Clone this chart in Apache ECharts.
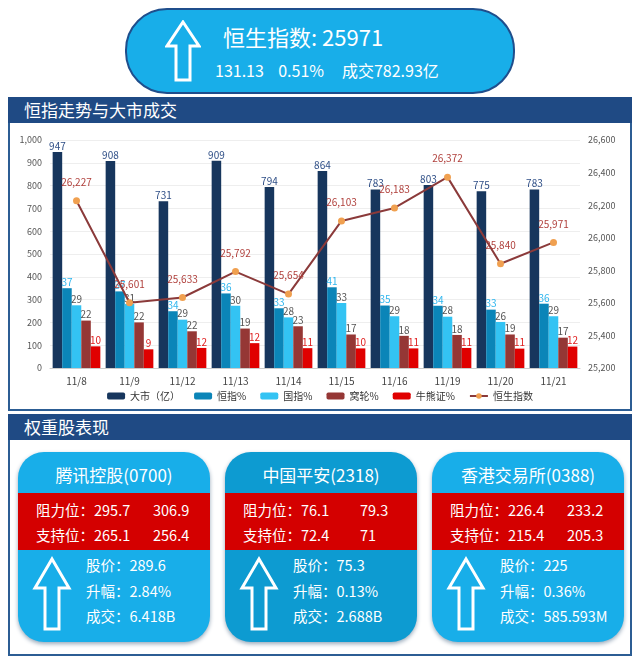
<!DOCTYPE html><html><head><meta charset="utf-8">
<script src="https://cdn.jsdelivr.net/npm/echarts@6/dist/echarts.min.js"></script>
<style>
body{margin:0;width:640px;height:660px;background:#fff;font-family:"Noto Sans CJK SC","Noto Sans",sans-serif;position:relative;overflow:hidden}
.abs{position:absolute}
.pill{left:125px;top:8px;width:386px;height:82px;border:2px solid #1f4e8c;border-radius:42px;background:#18aee9;color:#fff}
.hdr{left:8px;width:624px;height:26px;background:#1f4a84;color:#fff;font-size:17px;line-height:26px;padding-left:16px;box-sizing:border-box}
.panel{left:8px;width:624px;border:2px solid #2c5d94;border-top:none;box-sizing:border-box}
.card{top:452px;width:192px;height:190px;border-radius:26px;background:#18aee9;overflow:hidden;box-shadow:0 2px 4px #9ab}
.card .t{position:absolute;top:10px;width:100%;text-align:center;color:#fff;font-size:17px}
.card .r{position:absolute;top:41px;width:100%;height:57px;background:#d40000;color:#fff;font-size:14.5px}
.card .r div{position:absolute;left:18px}
.card .b{position:absolute;left:68px;color:#fff;font-size:14.5px}
</style></head><body>
<div class="abs pill">
 <svg class="abs" style="left:38px;top:10px" width="36" height="62"><path d="M18 2 L34 26 L25 26 L25 60 L11 60 L11 26 L2 26 Z" fill="none" stroke="#fff" stroke-width="3"/></svg>
 <div class="abs" style="left:96px;top:10px;font-size:22px">恒生指数:&nbsp;25971</div>
 <div class="abs" style="left:88px;top:48px;font-size:16px">131.13&nbsp;&nbsp;&nbsp;&nbsp;0.51%&nbsp;&nbsp;&nbsp;&nbsp;&nbsp;成交782.93亿</div>
</div>
<div class="abs hdr" style="top:97px">恒指走势与大市成交</div>
<div class="abs panel" style="top:123px;height:288px"></div>
<div class="abs hdr" style="top:414px">权重股表现</div>
<div class="abs panel" style="top:440px;height:216px"></div>
<div id="c" class="abs" style="left:10px;top:124px;width:620px;height:286px"></div>
<div id="cards"></div>
<script>
const categories=['11/8','11/9','11/12','11/13','11/14','11/15','11/16','11/19','11/20','11/21'];
const market=[947,908,731,909,794,864,783,803,775,783];
const hsiPct=[37,37,34,36,33,41,35,34,33,36];
const hsiH=[350,336,249,327,262,354,274,273,256,282];
const hsceiPct=[29,31,29,30,28,33,29,28,26,29];
const hsceiH=[275,281,212,273,222,285,227,225,202,227];
const warrantPct=[22,22,22,19,23,17,18,18,19,17];
const warrantH=[208,200,161,173,183,147,141,145,147,133];
const cbbcPct=[10,9,12,12,11,10,11,11,11,12];
const cbbcH=[95,82,88,109,87,86,86,88,85,94];
const hsiIndex=[26227,25601,25633,25792,25654,26103,26183,26372,25840,25971];
const stocks=[
 {name:'腾讯控股(0700)',r:['295.7','306.9'],s:['265.1','256.4'],p:'289.6',c:'2.84%',v:'6.418B',left:18,bg:'#18aee9'},
 {name:'中国平安(2318)',r:['76.1','79.3'],s:['72.4','71'],p:'75.3',c:'0.13%',v:'2.688B',left:225,bg:'#0d9bd1'},
 {name:'香港交易所(0388)',r:['226.4','233.2'],s:['215.4','205.3'],p:'225',c:'0.36%',v:'585.593M',left:432,bg:'#18aee9'}];
let h='';
stocks.forEach(s=>{h+=`<div class="abs card" style="left:${s.left}px;background:${s.bg}"><div class="t">${s.name}</div>
<div class="r"><div style="top:6px">阻力位：${s.r[0]}<span style="position:absolute;left:117px">${s.r[1]}</span></div><div style="top:31px">支持位：${s.s[0]}<span style="position:absolute;left:117px">${s.s[1]}</span></div></div>
<svg style="position:absolute;left:14px;top:104px" width="40" height="76"><path d="M20 3 L37 32 L27 32 L27 73 L13 73 L13 32 L3 32 Z" fill="none" stroke="#fff" stroke-width="3"/></svg>
<div class="b" style="top:102px">股价：${s.p}</div><div class="b" style="top:128px">升幅：${s.c}</div><div class="b" style="top:153px">成交：${s.v}</div></div>`});
document.getElementById('cards').innerHTML=h;
const ch=echarts.init(document.getElementById('c'));
const lab=(arr,color)=>({show:true,position:'top',distance:1,fontSize:10,color:color,formatter:p=>arr[p.dataIndex]});
function bar(name,data,color,labArr,lc){return{name,type:'bar',data,barGap:'0%',barCategoryGap:'10%',itemStyle:{color},label:lab(labArr,lc)};}
ch.setOption({
 animation:false,
 textStyle:{fontFamily:'Noto Sans CJK SC'},
 grid:{left:40,right:50,top:16,bottom:42},
 legend:{bottom:4,itemWidth:18,itemHeight:7,itemGap:14,textStyle:{fontSize:10,color:'#333'},
  data:['大市（亿）','恒指%','国指%','窝轮%','牛熊证%','恒生指数']},
 xAxis:{type:'category',data:categories,axisTick:{show:false},axisLine:{lineStyle:{color:'#ccc'}},axisLabel:{color:'#444',fontSize:10}},
 yAxis:[{type:'value',min:0,max:1000,interval:100,axisLabel:{color:'#555',fontSize:9,formatter:v=>v.toLocaleString('en-US')},splitLine:{lineStyle:{color:'#eee'}}},
  {type:'value',min:25200,max:26600,interval:200,axisLabel:{color:'#555',fontSize:9,formatter:v=>v.toLocaleString('en-US')},splitLine:{show:false}}],
 series:[bar('大市（亿）',market,'#17365d',market,'#2e4e86'),
  bar('恒指%',hsiH,'#0b85b8',hsiPct,'#2fb6ee'),
  bar('国指%',hsceiH,'#33c3f3',hsceiPct,'#555'),
  bar('窝轮%',warrantH,'#953735',warrantPct,'#555'),
  bar('牛熊证%',cbbcH,'#e00000',cbbcPct,'#e02020'),
  {name:'恒生指数',type:'line',yAxisIndex:1,data:hsiIndex,symbol:'circle',symbolSize:7,z:10,
   lineStyle:{color:'#8b3a3a',width:2},itemStyle:{color:'#f0a050'},
   label:{show:true,position:'top',distance:10,fontSize:10,color:'#b0403c',formatter:p=>p.value.toLocaleString('en-US')}}]
});
</script></body></html>
